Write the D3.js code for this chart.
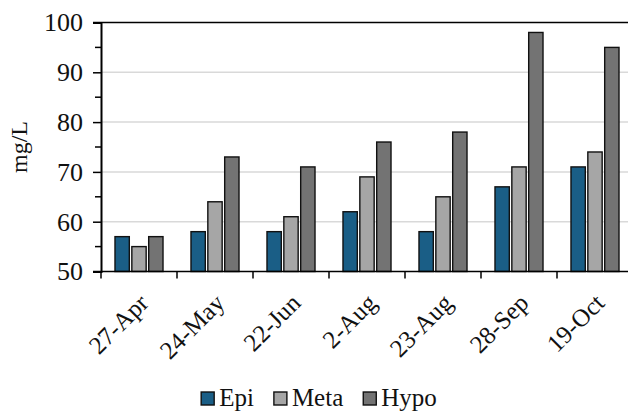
<!DOCTYPE html>
<html>
<head>
<meta charset="utf-8">
<script src="https://cdn.jsdelivr.net/npm/d3@7"></script>
<style>
  html, body { margin: 0; padding: 0; background: #fff; }
  svg { display: block; }
  svg text { font-family: "Liberation Serif", "Times New Roman", serif; }
</style>
</head>
<body>
<svg id="chart" width="628" height="411" font-family="Liberation Serif"></svg>
<script>
const categories = ["27-Apr", "24-May", "22-Jun", "2-Aug", "23-Aug", "28-Sep", "19-Oct"];
const seriesNames = ["Epi", "Meta", "Hypo"];
const epi  = [57, 58, 58, 62, 58, 67, 71];
const meta = [55, 64, 61, 69, 65, 71, 74];
const hypo = [57, 73, 71, 76, 78, 98, 95];
const seriesValues = [epi, meta, hypo];
const seriesColors = ["#1a5e86", "#a6a6a6", "#737373"];
const yTicks = [50, 60, 70, 80, 90, 100];
const yMinorTicks = [55, 65, 75, 85, 95];
const yLabel = "mg/L";

const FONT = '"Liberation Serif", "Times New Roman", serif';
const svg = d3.select("#chart");
const margin = { left: 101, top: 22.5, bottom: 271.5 };
const plotRight = 101 + 7 * 76;

const x0 = d3.scaleBand().domain(categories).range([margin.left, plotRight]).paddingInner(0).paddingOuter(0);
const x1 = d3.scaleBand().domain(seriesNames).range([0, x0.bandwidth()]).paddingInner(0.15).paddingOuter(0.83);
const y = d3.scaleLinear().domain([50, 100]).range([margin.bottom, margin.top]);

// gridlines
svg.append("g").selectAll("line").data(yTicks.filter(t => t > 50 && t < 100)).join("line")
  .attr("x1", margin.left).attr("x2", 628)
  .attr("y1", d => y(d)).attr("y2", d => y(d))
  .attr("stroke", "#d9d9d9").attr("stroke-width", 1.5);
// top line
svg.append("line").attr("x1", margin.left - 8).attr("x2", 628)
  .attr("y1", y(100)).attr("y2", y(100)).attr("stroke", "#000").attr("stroke-width", 1.5);

// bars
const groups = svg.append("g").selectAll("g").data(categories).join("g")
  .attr("transform", d => `translate(${x0(d)},0)`);
groups.selectAll("rect").data((c, i) => seriesNames.map((s, j) => ({ s, v: seriesValues[j][i], j }))).join("rect")
  .attr("x", d => x1(d.s))
  .attr("width", x1.bandwidth())
  .attr("y", d => y(d.v))
  .attr("height", d => y(50) - y(d.v))
  .attr("fill", d => seriesColors[d.j])
  .attr("stroke", "#111").attr("stroke-width", 1.4);

// y axis
const yAxis = svg.append("g").attr("transform", `translate(${margin.left},0)`)
  .call(d3.axisLeft(y).tickValues(yTicks).tickSize(8).tickPadding(10).tickFormat(d3.format("d")));
yAxis.attr("font-family", null).attr("font-size", null);
yAxis.select(".domain").attr("stroke", "#000").attr("stroke-width", 2);
yAxis.selectAll(".tick line").attr("stroke", "#000").attr("stroke-width", 1.5);
yAxis.selectAll(".tick text").attr("fill", "#111")
  .style("font-size", "26px").style("font-family", FONT);
svg.append("g").selectAll("line").data(yMinorTicks).join("line")
  .attr("x1", margin.left - 6).attr("x2", margin.left)
  .attr("y1", d => y(d)).attr("y2", d => y(d))
  .attr("stroke", "#000").attr("stroke-width", 1.5);

// x axis
svg.append("line").attr("x1", margin.left - 8).attr("x2", 628)
  .attr("y1", y(50)).attr("y2", y(50)).attr("stroke", "#000").attr("stroke-width", 1.5);
const boundaries = categories.map(c => x0(c));
svg.append("g").selectAll("line").data(boundaries).join("line")
  .attr("x1", d => d).attr("x2", d => d)
  .attr("y1", y(50)).attr("y2", y(50) + 7)
  .attr("stroke", "#000").attr("stroke-width", 1.5);

svg.append("g").selectAll("text").data(categories).join("text")
  .attr("transform", d => `translate(${x0(d) + x0.bandwidth() / 2 + 11},${y(50) + 33}) rotate(-45)`)
  .attr("text-anchor", "end")
  .style("font-size", "25px").style("font-family", FONT).attr("fill", "#111")
  .text(d => d);

// y label
svg.append("text")
  .attr("transform", `translate(27,${(margin.top + margin.bottom) / 2}) rotate(-90)`)
  .attr("text-anchor", "middle").style("font-size", "24px").style("font-family", FONT).attr("fill", "#111")
  .text(yLabel);

// legend
const legend = svg.append("g");
const items = legend.selectAll("g").data(seriesNames).join("g");
items.append("rect").attr("width", 13).attr("height", 13).attr("y", -14)
  .attr("fill", (d, i) => seriesColors[i]).attr("stroke", "#111").attr("stroke-width", 1.4);
items.append("text").attr("x", 18).attr("y", 0)
  .style("font-size", "25px").style("font-family", FONT).attr("fill", "#111").text(d => d);
let cx = 0;
items.each(function () {
  const w = 18 + this.querySelector("text").getComputedTextLength();
  d3.select(this).attr("transform", `translate(${cx},0)`);
  cx += w + 20;
});
const totalW = cx - 20;
legend.attr("transform", `translate(${319 - totalW / 2},406)`);
</script>
</body>
</html>
